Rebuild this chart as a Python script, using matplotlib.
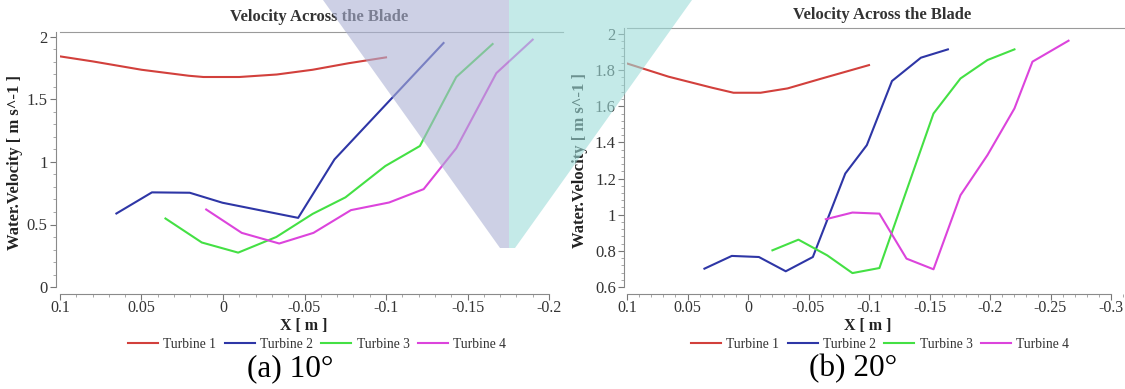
import matplotlib
matplotlib.use('Agg')
import matplotlib.pyplot as plt
from matplotlib.patches import Polygon
from matplotlib.ticker import MultipleLocator, FuncFormatter

plt.rcParams['font.family'] = ['Liberation Serif', 'DejaVu Serif']

W, H = 1125, 389

# ---- data ----
# (a) 10 deg
a_t1_x = [0.1, 0.08, 0.05, 0.021, 0.012, -0.01, -0.033, -0.055, -0.077, -0.1]
a_t1_y = [1.845, 1.805, 1.738, 1.69, 1.68, 1.68, 1.70, 1.738, 1.79, 1.837]
a_t2_x = [0.0654, 0.0436, 0.0204, 0.0003, -0.0461, -0.0684, -0.1353]
a_t2_y = [0.588, 0.757, 0.754, 0.674, 0.553, 1.021, 1.952]
a_t3_x = [0.0353, 0.013, -0.0093, -0.0327, -0.055, -0.0751, -0.0996, -0.1208, -0.1431, -0.1654]
a_t3_y = [0.548, 0.356, 0.275, 0.40, 0.585, 0.717, 0.968, 1.128, 1.68, 1.944]
a_t4_x = [0.0103, -0.0115, -0.0345, -0.0555, -0.0785, -0.1019, -0.1231, -0.1431, -0.1677, -0.19]
a_t4_y = [0.620, 0.433, 0.348, 0.433, 0.615, 0.676, 0.783, 1.11, 1.711, 1.979]

# (b) 20 deg
b_t1_x = [0.1, 0.0657, 0.0298, 0.012, -0.0104, -0.0327, -0.0595, -0.1]
b_t1_y = [1.837, 1.764, 1.703, 1.675, 1.675, 1.699, 1.751, 1.828]
b_t2_x = [0.036, 0.0134, -0.009, -0.0312, -0.0536, -0.0804, -0.0982, -0.119, -0.1429, -0.1652]
b_t2_y = [0.7015, 0.772, 0.766, 0.687, 0.766, 1.228, 1.385, 1.740, 1.869, 1.915]
b_t3_x = [-0.0202, -0.0417, -0.0655, -0.0863, -0.1086, -0.1533, -0.1756, -0.1979, -0.2202]
b_t3_y = [0.803, 0.862, 0.775, 0.677, 0.705, 1.560, 1.754, 1.856, 1.915]
b_t4_x = [-0.0643, -0.0863, -0.1086, -0.1310, -0.1533, -0.1756, -0.1979, -0.2202, -0.2351, -0.2649]
b_t4_y = [0.975, 1.012, 1.006, 0.757, 0.698, 1.108, 1.330, 1.588, 1.847, 1.963]

labels = ['Turbine 1', 'Turbine 2', 'Turbine 3', 'Turbine 4']
colors = ['#d2403c', '#2e36a6', '#44e044', '#dc44dc']


def fmt(v, pos):
    v = round(v, 4)
    if v == 0:
        return '0'
    return '%g' % v


def px_box(x0, x1, top, bottom):
    return [x0 / W, 1 - bottom / H, (x1 - x0) / W, (bottom - top) / H]


def style_axes(ax, xlim, ylim, xend, ymajor, yminor, left_out):
    ax.set_xlim(*xlim)
    ax.set_ylim(*ylim)
    ax.spines['right'].set_visible(False)
    ax.spines['top'].set_color('#9a9a9a')
    ax.spines['left'].set_color('#8a8a8a')
    ax.spines['bottom'].set_color('#8a8a8a')
    ax.spines['bottom'].set_position(('outward', 5))
    ax.spines['bottom'].set_bounds(0.1, xend)
    ax.spines['left'].set_position(('outward', left_out))
    ax.xaxis.set_major_locator(MultipleLocator(0.05))
    ax.xaxis.set_minor_locator(MultipleLocator(0.01))
    ax.yaxis.set_major_locator(MultipleLocator(ymajor))
    ax.yaxis.set_minor_locator(MultipleLocator(yminor))
    ax.xaxis.set_major_formatter(FuncFormatter(fmt))
    ax.yaxis.set_major_formatter(FuncFormatter(fmt))
    ax.tick_params(which='major', length=4, color='#777777', labelsize=12,
                   labelcolor='#333333', pad=2)
    ax.tick_params(axis='x', which='major', labelsize=11.5, pad=0.5)
    ax.tick_params(which='minor', length=2.5, color='#999999')
    ax.tick_params(top=False, right=False)
    ax.patch.set_alpha(0)


fig = plt.figure(figsize=(W / 100, H / 100), dpi=100)

# left panel
ax1 = fig.add_axes(px_box(60, 563, 32, 287))
for xs, ys, c, lab in zip([a_t1_x, a_t2_x, a_t3_x, a_t4_x],
                          [a_t1_y, a_t2_y, a_t3_y, a_t4_y], colors, labels):
    ax1.plot(xs, ys, color=c, lw=1.5, label=lab)
style_axes(ax1, (0.1, 0.1 - 503 / 1630), (0, 2.04), -0.2, 0.5, 0.1, 3)

# right panel
ax2 = fig.add_axes(px_box(627, 1125, 28, 287))
for xs, ys, c, lab in zip([b_t1_x, b_t2_x, b_t3_x, b_t4_x],
                          [b_t1_y, b_t2_y, b_t3_y, b_t4_y], colors, labels):
    ax2.plot(xs, ys, color=c, lw=1.5, label=lab)
style_axes(ax2, (0.1, 0.1 - 498 / 1210), (0.6, 0.6 + 259 / 180.7), -0.3, 0.2, 0.04, 2)

# texts
for cx, ty, lx, ly, xlx, cap in [(319, 17, 15, 162, 304, '(a) 10°'),
                                 (882, 15, 580, 160, 868, '(b) 20°')]:
    fig.text(cx / W, 1 - ty / H, 'Velocity Across the Blade', ha='center', va='center',
             fontsize=12, fontweight='bold', color='#333333')
    fig.text(lx / W, 1 - ly / H, 'Water.Velocity [ m s^-1 ]', ha='center', va='center',
             rotation=90, fontsize=12, fontweight='bold', color='#222222')
    fig.text(xlx / W, 1 - 326 / H, 'X [ m ]', ha='center', va='center',
             fontsize=11.5, fontweight='bold', color='#222222')
    fig.text((cx - 29) / W, 1 - 369 / H, cap, ha='center', va='center',
             fontsize=22.5, color='black')

for ax, lgx in [(ax1, 317), (ax2, 880)]:
    ax.legend(loc='center', bbox_to_anchor=(lgx / W, 1 - 344 / H),
              bbox_transform=fig.transFigure, ncol=4, frameon=False,
              fontsize=9.8, handlelength=2.2, handletextpad=0.4,
              columnspacing=0.6, labelcolor='#333333')

# translucent overlay shapes sitting over the picture
blue_poly = [(323, 0), (500, 248), (509, 248), (509, 0)]
cyan_poly = [(509, 0), (509, 248), (515, 248), (692, 0)]
for poly, col in [(blue_poly, '#acb2d5'), (cyan_poly, '#9ddcd9')]:
    pts = [(x / W, 1 - y / H) for x, y in poly]
    fig.patches.append(Polygon(pts, closed=True, transform=fig.transFigure,
                               facecolor=col, edgecolor='none', alpha=0.6, zorder=10))

fig.savefig('out.png', dpi=100)
